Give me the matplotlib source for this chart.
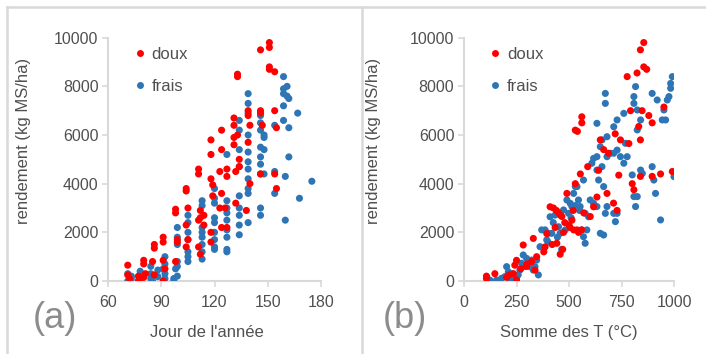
import matplotlib
matplotlib.use("Agg")
import matplotlib.pyplot as plt
from matplotlib.lines import Line2D

plt.rcParams['font.family'] = ['Liberation Sans', 'DejaVu Sans']

# ---- (a) yield vs day of year ----
day_doux = [71, 71, 72, 77, 77, 78, 80, 80, 81, 80, 86, 86, 85, 86, 91, 91, 91, 92, 91,
            98, 98, 99, 99, 98, 104, 104, 105, 104, 105, 104,
            111, 111, 112, 112, 111, 111, 112, 114, 114,
            118, 118, 118, 119, 119, 118, 118, 124, 124, 123, 124, 123, 124,
            127, 127, 126, 127, 131, 131, 131, 131, 132, 132,
            133, 133, 133, 134, 134, 139, 139, 140, 139, 140, 138,
            146, 146, 146, 147, 146, 151, 151, 151, 151, 154, 154, 155, 154, 155]
yld_doux_a = [650, 250, 100, 0, 200, 100, 850, 700, 300, 150, 1500, 1350, 800, 250,
              1800, 1600, 850, 500, 0, 2950, 2800, 1700, 1600, 800,
              3800, 3700, 3000, 2300, 1700, 1400,
              4600, 4400, 2900, 2600, 2500, 1400, 1100, 2700, 2300,
              5800, 5200, 4200, 3950, 3500, 2000, 1600, 6200, 5400, 4500, 3600, 3000, 2200,
              4600, 4300, 3000, 2200, 6700, 6400, 5900, 5600, 4500, 3200,
              8500, 8400, 6000, 5000, 4700, 7000, 6800, 6400, 5700, 4000, 2900,
              9500, 7000, 6900, 6400, 4400, 9800, 9600, 8800, 8700, 8600, 7000, 6300, 4400, 3800]

day_frais = [71, 72, 71, 73, 73, 78, 78, 77, 78, 84, 84, 84, 85, 88, 88,
             92, 92, 91, 92, 92, 97, 97, 98, 99, 99, 99, 99, 99, 99,
             105, 105, 105, 105, 105, 105, 105,
             113, 113, 113, 113, 113, 113, 113, 113,
             120, 120, 120, 120, 120, 120, 120, 120, 120,
             127, 127, 127, 127, 127, 127, 127, 127, 127,
             134, 134, 134, 134, 134, 134, 134, 134, 134,
             139, 139, 139, 139, 139, 139, 139, 139, 139, 139, 139,
             146, 146, 146, 146, 146, 146, 146, 146, 146, 148, 148, 148, 148,
             154, 154, 154, 159, 159, 159, 159, 159, 160, 160,
             161, 161, 162, 162, 162, 167, 168, 175]
yld_frais_a = [300, 100, 0, 200, 100, 400, 200, 0, 100, 600, 300, 100, 0, 450, 180,
               1000, 700, 500, 300, 100, 100, 0, 500, 2200, 1800, 1500, 800, 600, 200,
               2700, 2400, 2000, 1700, 1200, 1000, 800,
               3300, 3100, 2200, 2000, 1800, 1500, 1200, 900,
               3800, 3400, 3200, 2600, 2400, 2000, 1700, 1400, 1300,
               5200, 3300, 3000, 2800, 2500, 2100, 1800, 1300, 1200,
               6600, 6200, 5400, 4700, 3500, 3000, 2700, 2300, 1900,
               7700, 7300, 6900, 6000, 5300, 4900, 4600, 4200, 3800, 3600, 2400,
               6800, 6500, 6200, 5500, 5100, 4800, 4400, 3000, 2700, 6000, 5900, 5400, 4400,
               6400, 4500, 3600, 8400, 7900, 7700, 7200, 6600, 4300, 2500,
               8000, 7600, 7500, 6300, 5100, 6900, 3400, 4100]

# ---- (b) yield vs temperature sum ----
tsum_doux = [107, 107, 147, 203, 242, 250, 235, 250, 282, 298, 322, 338, 330, 346, 386,
             394, 410, 426, 434, 442, 450, 458, 466, 474, 490, 514, 522, 530, 538, 554,
             570, 530, 540, 561, 561, 589, 601, 617, 633, 641, 649, 665, 681, 688, 712,
             720, 729, 737, 745, 777, 785, 793, 801, 809, 824, 832, 848, 840, 840, 840,
             856, 856, 870, 880, 896, 896, 936, 952, 992, 500, 545, 470, 420,
             440, 460, 480, 505, 520, 560, 380, 300, 270, 215]
yld_doux_b = [100, 200, 300, 150, 650, 850, 300, 50, 1480, 600, 800, 450, 1750, 1000, 1400,
              1950, 3050, 3000, 2200, 1550, 2800, 1100, 2650, 2000, 3600, 2500, 2100, 4000, 2100, 4400,
              2800, 6200, 6150, 6750, 6500, 4700, 2650, 3050, 3450, 4550, 5800, 5400, 3600, 5250, 3200,
              6050, 2900, 4350, 5800, 8400, 5650, 7000, 4000, 3750, 8550, 6350, 7000, 5800, 4300, 9500,
              9800, 8800, 8700, 6800, 6500, 4300, 4400, 7150, 4500, 2300, 2000, 1300, 1500,
              2900, 2700, 2400, 2200, 2900, 2100, 1200, 700, 500, 250]

tsum_frais = [123, 155, 179, 195, 203, 211, 219, 234, 258, 266, 274, 282, 298, 314, 322,
              338, 346, 354, 362, 370, 386, 394, 402, 410, 418, 434, 450, 458, 474, 482,
              490, 498, 506, 514, 522, 530, 538, 545, 553, 561, 569, 577, 585, 569, 577,
              593, 601, 617, 633, 641, 649, 665, 673, 681, 609, 617, 633, 633, 649, 657,
              665, 681, 697, 713, 729, 729, 713, 721, 745, 761, 769, 777, 801, 809, 817,
              825, 841, 849, 841, 825, 809, 809, 817, 825, 729, 761, 713, 681, 673, 673,
              633, 657, 896, 904, 912, 936, 952, 960, 968, 976, 984, 984, 992, 1000, 896,
              920, 944, 230, 250, 290, 330, 400, 425, 445, 465, 510, 530, 550]
yld_frais_b = [40, 40, 110, 180, 590, 380, 110, 40, 250, 450, 730, 1070, 930, 590, 860,
               590, 860, 250, 1410, 2100, 2100, 1690, 1960, 2640, 1960, 2710, 2230, 1960, 2920, 2100,
               3330, 2780, 3190, 3060, 3600, 3880, 3880, 3330, 3060, 2100, 1820, 1550, 2100, 4150, 2780,
               2640, 3330, 3190, 3060, 4150, 1960, 1890, 2780, 3060, 4840, 5040, 4560, 5110, 5520, 4700,
               3880, 5110, 5250, 5250, 5380, 2780, 2780, 2440, 5110, 4840, 5660, 5110, 4360, 3470, 3060,
               3470, 4560, 4420, 6620, 7030, 7300, 7580, 7990, 6210, 6620, 6890, 6340, 5930, 7710, 7300,
               6480, 5800, 4700, 4150, 3600, 2510, 7030, 6620, 7440, 7580, 7920, 8120, 8400, 4290, 7710,
               7440, 6620, 300, 100, 600, 450, 1600, 2400, 1800, 1300, 2600, 3100, 2900]

RED = '#FF0000'
BLUE = '#2E75B6'
AXIS_GREY = '#D9D9D9'
TEXT_GREY = '#505050'

fig = plt.figure(figsize=(7.06, 3.54), dpi=100)
W, H = 706.0, 354.0


def style_axis(ax, xlim, xticks, xlabel, xlabel_x, ylabel_x):
    ax.set_xlim(*xlim)
    ax.set_ylim(0, 10000)
    ax.set_xticks(xticks)
    ax.set_yticks([0, 2000, 4000, 6000, 8000, 10000])
    for side in ('top', 'right'):
        ax.spines[side].set_visible(False)
    for side in ('left', 'bottom'):
        ax.spines[side].set_color(AXIS_GREY)
        ax.spines[side].set_linewidth(1.5)
    ax.tick_params(axis='both', colors=AXIS_GREY, labelcolor=TEXT_GREY,
                   length=4, width=1.2, labelsize=11.5)
    ax.tick_params(axis='x', pad=6)
    ax.tick_params(axis='y', pad=3)
    ax.set_xlabel(xlabel, fontsize=12, color=TEXT_GREY)
    ax.set_ylabel('rendement (kg MS/ha)', fontsize=12, color=TEXT_GREY)
    ax.xaxis.set_label_coords(xlabel_x, -0.181)
    ax.yaxis.set_label_coords(ylabel_x, 0.575)
    handles = [Line2D([], [], ls='none', marker='o', ms=5, mfc=RED, mec='none'),
               Line2D([], [], ls='none', marker='o', ms=5, mfc=BLUE, mec='none')]
    leg = ax.legend(handles, ['doux', 'frais'], loc='upper left',
                    bbox_to_anchor=(0.125, 0.962), frameon=False, borderpad=0,
                    handlelength=0.6, handletextpad=0.4, labelspacing=1.0,
                    fontsize=12, borderaxespad=0)
    for t in leg.get_texts():
        t.set_color(TEXT_GREY)


ax_a = fig.add_axes([108.3 / W, 1 - 281 / H, 212.4 / W, 243.3 / H])
ax_a.scatter(day_frais, yld_frais_a, s=26, color=BLUE, edgecolors='none', zorder=3)
ax_a.scatter(day_doux, yld_doux_a, s=26, color=RED, edgecolors='none', zorder=3)
style_axis(ax_a, (60, 180), [60, 90, 120, 150, 180], "Jour de l'année", 0.463, -0.364)

ax_b = fig.add_axes([464.0 / W, 1 - 281 / H, 210.0 / W, 243.3 / H])
ax_b.scatter(tsum_frais, yld_frais_b, s=26, color=BLUE, edgecolors='none', zorder=3)
ax_b.scatter(tsum_doux, yld_doux_b, s=26, color=RED, edgecolors='none', zorder=3)
style_axis(ax_b, (0, 1000), [0, 250, 500, 750, 1000], 'Somme des T (°C)', 0.497, -0.395)

# panel letters
fig.text(55 / W, 1 - 318 / H, '(a)', fontsize=26, color='#8C8C8C',
         ha='center', va='center')
fig.text(405 / W, 1 - 318 / H, '(b)', fontsize=26, color='#8C8C8C',
         ha='center', va='center')

# panel frame lines
frame_kw = dict(color=AXIS_GREY, lw=1.8, transform=fig.transFigure, clip_on=False)
fig.add_artist(Line2D([7 / W, 1.0], [1 - 7 / H, 1 - 7 / H], **frame_kw))
fig.add_artist(Line2D([7 / W, 7 / W], [1 - 7 / H, 0.0], **frame_kw))
fig.add_artist(Line2D([362 / W, 362 / W], [1 - 7 / H, 0.0], **frame_kw))

fig.savefig('out.png', dpi=100)
